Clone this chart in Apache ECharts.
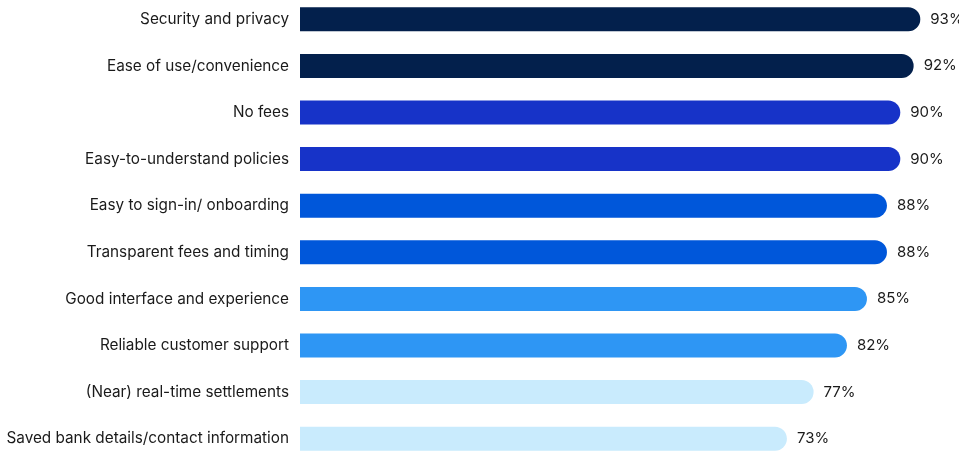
<!DOCTYPE html>
<html>
<head>
<meta charset="utf-8">
<script src="https://cdn.jsdelivr.net/npm/echarts@6/dist/echarts.min.js"></script>
<style>
  html, body { margin: 0; padding: 0; background: #fff; }
  #chart { width: 959px; height: 451px; }
</style>
</head>
<body>
<div id="chart"></div>
<script>
// Features ranked by share of respondents (top to bottom)
const categories = [
  'Security and privacy',
  'Ease of use/convenience',
  'No fees',
  'Easy-to-understand policies',
  'Easy to sign-in/ onboarding',
  'Transparent fees and timing',
  'Good interface and experience',
  'Reliable customer support',
  '(Near) real-time settlements',
  'Saved bank details/contact information'
];
const values = [93, 92, 90, 90, 88, 88, 85, 82, 77, 73];
const barColors = [
  '#03204C', '#03204C',
  '#1733C8', '#1733C8',
  '#0057DA', '#0057DA',
  '#2E96F4', '#2E96F4',
  '#C9EBFD', '#C9EBFD'
];

const chart = echarts.init(document.getElementById('chart'));
chart.setOption({
  animation: false,
  grid: {
    left: 300, top: -4, width: 667, height: 466,
    containLabel: false,
    outerBoundsMode: 'none'
  },
  xAxis: {
    type: 'value', min: 0, max: 100,
    show: false
  },
  yAxis: {
    type: 'category',
    data: categories,
    inverse: true,
    axisLine: { show: false },
    axisTick: { show: false },
    axisLabel: {
      margin: 11,
      color: '#1a1a1a',
      fontFamily: 'Inter, "Noto Sans", sans-serif',
      fontSize: 15.3
    }
  },
  series: [{
    type: 'bar',
    barWidth: 24,
    data: values.map((v, i) => ({ value: v, itemStyle: { color: barColors[i] } })),
    itemStyle: { borderRadius: [0, 12, 12, 0] },
    label: {
      show: true,
      position: 'right',
      distance: 10,
      formatter: '{c}%',
      color: '#1a1a1a',
      fontFamily: 'Inter, "Noto Sans", sans-serif',
      fontSize: 15
    }
  }]
});
</script>
</body>
</html>
